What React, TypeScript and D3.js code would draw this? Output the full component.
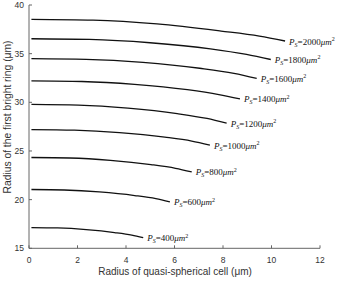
import React from "react";
import * as d3 from "d3";

const xTicks = [0, 2, 4, 6, 8, 10, 12];
const yTicks = [15, 20, 25, 30, 35, 40];
const seriesNames = ["2000", "1800", "1600", "1400", "1200", "1000", "800", "600", "400"];
const seriesX: number[][] = [
  [0.1, 2.64, 5.28, 7.92, 9.5, 10.56],
  [0.1, 2.49, 4.99, 7.48, 8.97, 9.97],
  [0.1, 2.35, 4.7, 7.04, 8.45, 9.39],
  [0.1, 2.18, 4.35, 6.53, 7.83, 8.7],
  [0.1, 2.04, 4.08, 6.11, 7.34, 8.15],
  [0.1, 1.87, 3.73, 5.6, 6.71, 7.46],
  [0.1, 1.68, 3.36, 5.03, 6.04, 6.71],
  [0.1, 1.45, 2.9, 4.36, 5.23, 5.81],
  [0.1, 1.18, 2.36, 3.53, 4.24, 4.71],
];
const seriesY: number[][] = [
  [38.53, 38.45, 38.06, 37.32, 36.8, 36.3],
  [36.53, 36.46, 36.12, 35.5, 34.92, 34.4],
  [34.48, 34.41, 34.1, 33.5, 32.98, 32.46],
  [32.2, 32.14, 31.85, 31.3, 30.8, 30.35],
  [29.78, 29.71, 29.4, 28.84, 28.34, 27.85],
  [27.2, 27.14, 26.89, 26.42, 26.02, 25.6],
  [24.33, 24.28, 24.04, 23.6, 23.22, 22.85],
  [21.04, 20.99, 20.79, 20.42, 20.1, 19.77],
  [17.13, 17.09, 16.92, 16.62, 16.36, 16.1],
];

const W = 342;
const H = 281;
const x = d3.scaleLinear().domain([0, 12]).range([29, 320]);
const y = d3.scaleLinear().domain([15, 40]).range([248.3, 5]);

const line = d3
  .line<[number, number]>()
  .x((d) => x(d[0]))
  .y((d) => y(d[1]))
  .curve(d3.curveMonotoneX);

const axisColor = "#666";
const textColor = "#333";
const sans = "'Liberation Sans', Arial, sans-serif";
const serif = "'Liberation Serif', 'Times New Roman', serif";

export default function App() {
  return (
    <svg
      width={W}
      height={H}
      style={{ position: "absolute", left: 0, top: 0, background: "#fff" }}
    >
      <line x1={x(0)} x2={x(0)} y1={y(40)} y2={y(15)} stroke={axisColor} strokeWidth={1} />
      <line x1={x(0)} x2={x(12)} y1={y(15)} y2={y(15)} stroke={axisColor} strokeWidth={1} />
      {yTicks.map((t) => (
        <g key={"y" + t}>
          <line x1={x(0)} x2={x(0) + 3} y1={y(t)} y2={y(t)} stroke={axisColor} />
          <text
            x={x(0) - 5}
            y={y(t)}
            dy="0.35em"
            textAnchor="end"
            fontFamily={sans}
            fontSize={8.5}
            fill={textColor}
          >
            {t}
          </text>
        </g>
      ))}
      {xTicks.map((t) => (
        <g key={"x" + t}>
          <line x1={x(t)} x2={x(t)} y1={y(15)} y2={y(15) - 3} stroke={axisColor} />
          <text
            x={x(t)}
            y={262.5}
            textAnchor="middle"
            fontFamily={sans}
            fontSize={8.5}
            fill={textColor}
          >
            {t}
          </text>
        </g>
      ))}
      <text
        x={175}
        y={275}
        textAnchor="middle"
        fontFamily={sans}
        fontSize={10}
        fill={textColor}
      >
        Radius of quasi-spherical cell (μm)
      </text>
      <text
        transform={`translate(10.5,117) rotate(-90)`}
        textAnchor="middle"
        fontFamily={sans}
        fontSize={10.3}
        fill={textColor}
      >
        Radius of the first bright ring (μm)
      </text>

      {seriesNames.map((name, i) => {
        const pts: [number, number][] = seriesX[i].map((v, j) => [v, seriesY[i][j]]);
        const last = pts[pts.length - 1];
        const lx = x(last[0]) + 4;
        const ly = y(last[1]) + 3.5;
        return (
          <g key={name}>
            <path d={line(pts) || ""} fill="none" stroke="#111" strokeWidth={1.3} />
            <text x={lx} y={ly} fontFamily={serif} fontSize={9} fill="#111">
              <tspan fontStyle="italic">P</tspan>
              <tspan fontSize={6} dy={2} fontStyle="italic">
                S
              </tspan>
              <tspan dy={-2}>{"=" + name}</tspan>
              <tspan fontStyle="italic">μm</tspan>
              <tspan fontSize={6} dy={-3.5}>
                2
              </tspan>
            </text>
          </g>
        );
      })}
    </svg>
  );
}
